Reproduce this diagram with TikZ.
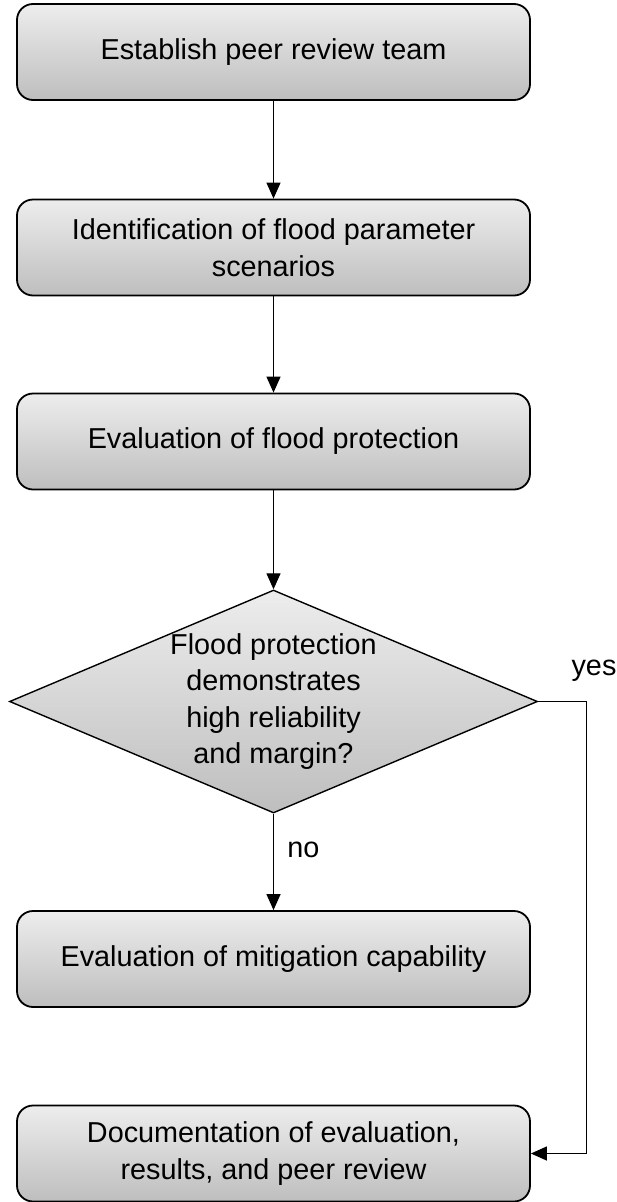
\documentclass[tikz,border=0pt]{standalone}
\usepackage{fontspec}
\setmainfont{Liberation Sans}
\usetikzlibrary{shapes.geometric}
\usetikzlibrary{arrows.meta}

\definecolor{boxtop}{RGB}{237,237,237}
\definecolor{boxbottom}{RGB}{190,190,190}

\tikzset{
  stepbox/.style={draw=black, line width=1.8pt, rounded corners=16pt, top color=boxtop, bottom color=boxbottom,
    minimum width=513pt, minimum height=96pt, align=center, inner sep=0pt},
  decision/.style={draw=black, line width=1.4pt, diamond, top color=boxtop, bottom color=boxbottom,
    minimum width=528pt, minimum height=223pt, inner sep=0pt},
  flow/.style={line width=1.3pt, -{Triangle[width=14pt,length=16pt]}}
}

\begin{document}
\begin{tikzpicture}[x=1pt, y=-1pt, font=\fontsize{28.8}{36.5}\selectfont]
\useasboundingbox (0,0) rectangle (616,1202);
\node[stepbox] (team) at (273.5,52) {Establish peer review team};
\node[stepbox] (scen) at (273.5,247.5) {Identification of flood parameter\\scenarios};
\node[stepbox] (prot) at (273.5,441.5) {Evaluation of flood protection};
\node[decision] (dec) at (273.5,701.5) {};
\node[align=center, inner sep=0pt] (dectext) at (dec) {Flood protection\\demonstrates\\high reliability\\and margin?};
\node[stepbox] (miti) at (273.5,959) {Evaluation of mitigation capability};
\node[stepbox] (docu) at (273.5,1153.5) {Documentation of evaluation,\\results, and peer review};
\coordinate (yesturn) at (586.5,701.5);
\draw[flow] (team) -- (scen);
\draw[flow] (scen) -- (prot);
\draw[flow] (prot) -- (dec);
\draw[flow] (dec) -- (miti) node[pos=0.38, right, xshift=10pt] (nolbl) {no};
\draw[flow] (dec.east) -- (yesturn) |- (docu.east);
\node[anchor=base] (yeslbl) at (594,675) {yes};
\end{tikzpicture}
\end{document}
